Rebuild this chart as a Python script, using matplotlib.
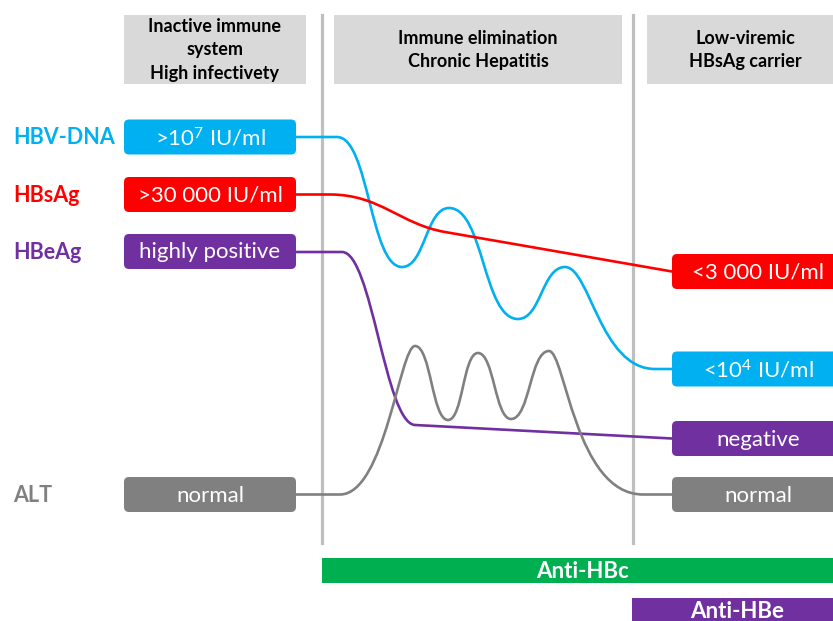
import matplotlib
matplotlib.use("Agg")
import matplotlib.pyplot as plt
from matplotlib.patches import FancyBboxPatch, Rectangle, PathPatch
from matplotlib.path import Path

plt.rcParams['font.family'] = ['Lato', 'DejaVu Sans']
plt.rcParams['mathtext.fontset'] = 'custom'
plt.rcParams['mathtext.rm'] = 'Lato'
plt.rcParams['mathtext.it'] = 'Lato:italic'
plt.rcParams['mathtext.bf'] = 'Lato:bold'

W, H = 833, 621

# phase headers
phase_labels = ["Inactive immune\nsystem\nHigh infectivety",
                "Immune elimination\nChronic Hepatitis",
                "Low-viremic\nHBsAg carrier"]
phase_x0 = [124, 334, 647]
phase_x1 = [306, 622, 843]
phase_dividers = [322, 633]

# markers, left (start) and right (end) states
markers = ["HBV-DNA", "HBsAg", "HBeAg", "ALT"]
marker_colors = ["#00B0F0", "#FF0000", "#7030A0", "#808080"]
start_labels = [r">10$^7$ IU/ml", ">30 000 IU/ml", "highly positive", "normal"]
start_levels = [137, 194.5, 251.5, 494.5]
end_labels = [r"<10$^4$ IU/ml", "<3 000 IU/ml", "negative", "normal"]
end_levels = [369, 271.5, 438.5, 494.5]

# course of each marker: key points (x, level) and bezier handle lengths per segment
# (None = straight piece)
hbv_nodes = [(296, 137), (337, 137), (402, 267), (449, 208), (518, 319), (565, 267), (655, 369), (672, 369)]
hbv_handles = [None, (32, 32), (23, 23), (35, 35), (23, 23), (25, 55), None]
hbs_nodes = [(296, 194.5), (330, 194.5), (445, 232), (672, 271.5)]
hbs_handles = [None, (50, 45), None]
hbe_nodes = [(296, 252), (342, 252), (415, 425), (672, 438.5)]
hbe_handles = [None, (30, 30), None]
alt_nodes = [(296, 494.5), (340, 494.5), (415, 346), (448, 420), (478, 353), (511, 419), (549, 351), (643, 494.5), (672, 494.5)]
alt_handles = [None, (45, 15), (16, 16), (15, 15), (16, 16), (19, 19), (16, 68), None]
curves = [(hbv_nodes, hbv_handles), (hbs_nodes, hbs_handles), (hbe_nodes, hbe_handles), (alt_nodes, alt_handles)]

antibodies = ["Anti-HBc", "Anti-HBe"]
antibody_colors = ["#00B050", "#7030A0"]
antibody_x0 = [322, 632]


def seg_slope(nodes, i):
  (x0, y0), (x1, y1) = nodes[i], nodes[i + 1]
  return (y1 - y0) / (x1 - x0)


def curve_path(nodes, handles):
  verts = [nodes[0]]
  codes = [Path.MOVETO]
  for i, h in enumerate(handles):
    (x0, y0), (x1, y1) = nodes[i], nodes[i + 1]
    if h is None:
      verts.append((x1, y1))
      codes.append(Path.LINETO)
      continue
    # tangent follows a neighbouring straight piece, otherwise horizontal
    s0 = seg_slope(nodes, i - 1) if i > 0 and handles[i - 1] is None else 0
    s1 = seg_slope(nodes, i + 1) if i + 1 < len(handles) and handles[i + 1] is None else 0
    verts += [(x0 + h[0], y0 + h[0] * s0), (x1 - h[1], y1 - h[1] * s1), (x1, y1)]
    codes += [Path.CURVE4] * 3
  return Path(verts, codes)


fig = plt.figure(figsize=(8.33, 6.21), dpi=100)
ax = fig.add_axes([0, 0, 1, 1])
ax.set_xlim(0, W)
ax.set_ylim(H, 0)
ax.axis('off')

# header boxes
for label, x0, x1 in zip(phase_labels, phase_x0, phase_x1):
  ax.add_patch(Rectangle((x0, 15), x1 - x0, 69, color="#D9D9D9", lw=0, zorder=1))
  ax.text((x0 + x1) / 2, 50, label, ha="center", va="center", fontsize=13,
          fontweight="bold", color="black", linespacing=1.45, zorder=2)

for x in phase_dividers:
  ax.plot([x, x], [15, 543], color="#BFBFBF", lw=2.3, zorder=1)

# marker courses
for (nodes, handles), c in zip(curves, marker_colors):
  ax.add_patch(PathPatch(curve_path(nodes, handles), fill=False, edgecolor=c, lw=1.9,
                         capstyle="round", zorder=3))

def state_box(x0, y, text, color):
  ax.add_patch(FancyBboxPatch((x0, y - 17.5), 172, 35, boxstyle="round,pad=0,rounding_size=5",
                              facecolor=color, edgecolor="none", zorder=4))
  ax.text(x0 + 86, y + 1, text, ha="center", va="center", fontsize=16, color="white", zorder=5)

for name, c, sl, sy, el, ey in zip(markers, marker_colors, start_labels, start_levels, end_labels, end_levels):
  ax.text(13, sy + 1, name, ha="left", va="center", fontsize=15.5, fontweight="bold", color=c)
  state_box(124, sy, sl, c)
  state_box(672, ey, el, c)

# antibody bars
for i, (name, c, x0) in enumerate(zip(antibodies, antibody_colors, antibody_x0)):
  y0 = 558 + i * 40
  ax.add_patch(Rectangle((x0, y0), 843 - x0, 25 if i == 0 else 30, color=c, lw=0, zorder=2))
  ax.text((x0 + 843) / 2, y0 + 13.5, name, ha="center", va="center", fontsize=16,
          fontweight="bold", color="white", zorder=3)

fig.savefig("out.png", dpi=100)
